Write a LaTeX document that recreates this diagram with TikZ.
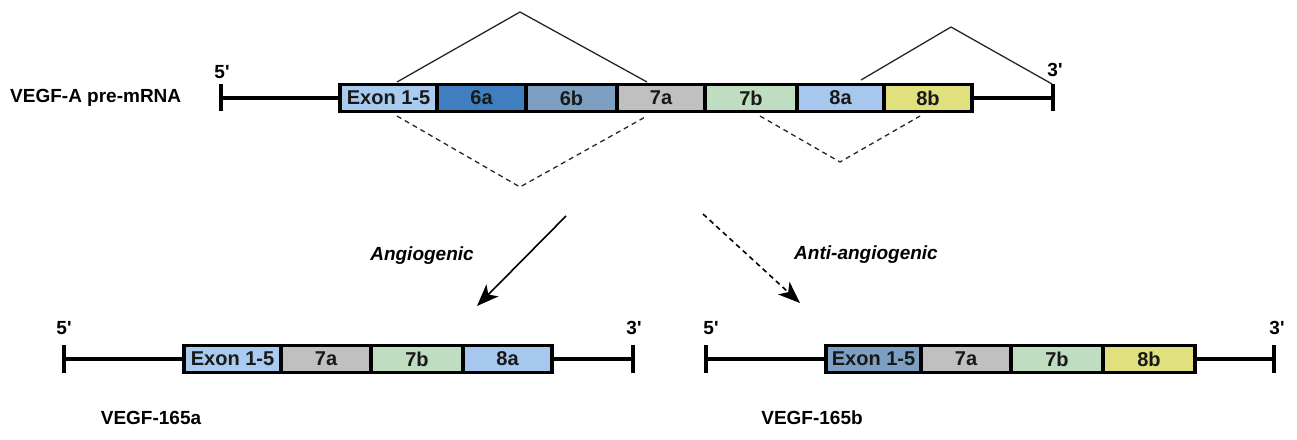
\documentclass[tikz,border=0pt]{standalone}
\usepackage{fontspec}
\setmainfont{Liberation Sans}
\newfontfamily\plainsans{Liberation Sans}
\usetikzlibrary{arrows.meta}
\definecolor{cE}{HTML}{A9CBEF}
\definecolor{cSixA}{HTML}{3F7FC0}
\definecolor{cSixB}{HTML}{7DA0C2}
\definecolor{cSevA}{HTML}{C0C0C0}
\definecolor{cSevB}{HTML}{BFDDC0}
\definecolor{cEightA}{HTML}{A6C8EE}
\definecolor{cEightB}{HTML}{E0E07F}
\tikzset{
  seg/.style={draw=black, line width=3.6pt, inner sep=0pt, minimum height=27pt, font=\fontsize{20}{20}\selectfont\bfseries, text=black!90},
  bb/.style={line width=3.2pt},
  lbl/.style={font=\fontsize{19}{19}\selectfont\bfseries, inner sep=0pt},
  endlbl/.style={font=\plainsans\fontsize{19}{19}\selectfont\bfseries, inner sep=0pt},
  splice/.style={line width=1.3pt, black!85},
  dsplice/.style={line width=1.3pt, black!85, dash pattern=on 5pt off 4pt},
  bigarrow/.style={line width=1.6pt, -{Stealth[length=22pt,width=17pt,inset=6pt]}},
}
\begin{document}
\begin{tikzpicture}[x=1pt,y=-1pt]
\useasboundingbox (0,0) rectangle (1297,439);
% ---------- top pre-mRNA ----------
\node[lbl, anchor=west] (title) at (10,98) {VEGF-A pre-mRNA};
\coordinate (t5) at (221,98);
\coordinate (t3) at (1053,98);
\draw[bb] (221,84) -- (221,111);
\draw[bb] (1053,84) -- (1053,111);
\node[endlbl] (p5) at (222,72) {5'};
\node[endlbl] (p3) at (1055,70) {3'};
\node[seg, fill=cE, minimum width=97pt] (e15) at (388.5,98) {Exon 1-5};
\node[seg, fill=cSixA, minimum width=89pt] (e6a) at (481.5,98) {6a};
\node[seg, fill=cSixB, minimum width=91pt] (e6b) at (571.5,98) {6b};
\node[seg, fill=cSevA, minimum width=88pt] (e7a) at (661,98) {7a};
\node[seg, fill=cSevB, minimum width=92pt] (e7b) at (751,98) {7b};
\node[seg, fill=cEightA, minimum width=87pt] (e8a) at (840.5,98) {8a};
\node[seg, fill=cEightB, minimum width=88pt] (e8b) at (928,98) {8b};
\draw[bb] (t5) -- (e15.west);
\draw[bb] (e8b.east) -- (t3);
% splice lines
\coordinate (s1) at (520,12);
\coordinate (s2) at (951,27);
\coordinate (d1) at (520,187);
\coordinate (d2) at (840,162);
\draw[splice] (397,82) -- (s1) -- (647,82);
\draw[splice] (861,80) -- (s2) -- (1052,84);
\draw[dsplice] (397,116) -- (d1) -- (647,116);
\draw[dsplice] (760,116) -- (d2) -- (920,116);
% ---------- arrows ----------
\coordinate (a1s) at (566,216);
\coordinate (a1e) at (477,306);
\coordinate (a2s) at (703,214);
\coordinate (a2e) at (800,303);
\draw[bigarrow] (a1s) -- (a1e);
\draw[bigarrow, dash pattern=on 5pt off 4pt] (a2s) -- (a2e);
\node[lbl, font=\fontsize{19}{19}\selectfont\bfseries\itshape] (ang) at (422,256) {Angiogenic};
\node[lbl, font=\fontsize{19}{19}\selectfont\bfseries\itshape] (anti) at (866,255) {Anti-angiogenic};
% ---------- bottom left ----------
\coordinate (l5) at (64,359);
\coordinate (l3) at (633,359);
\draw[bb] (64,345) -- (64,373);
\draw[bb] (633,345) -- (633,373);
\node[endlbl] (q5) at (64,328) {5'};
\node[endlbl] (q3) at (634,328) {3'};
\node[seg, fill=cE, minimum width=97pt] (l15) at (232.5,359) {Exon 1-5};
\node[seg, fill=cSevA, minimum width=90pt] (l7a) at (326,359) {7a};
\node[seg, fill=cSevB, minimum width=92pt] (l7b) at (417,359) {7b};
\node[seg, fill=cEightA, minimum width=89pt] (l8a) at (507.5,359) {8a};
\draw[bb] (l5) -- (l15.west);
\draw[bb] (l8a.east) -- (l3);
\node[lbl] (n165a) at (151,418) {VEGF-165a};
% ---------- bottom right ----------
\coordinate (r5) at (706,359);
\coordinate (r3) at (1274,359);
\draw[bb] (706,345) -- (706,373);
\draw[bb] (1274,345) -- (1274,373);
\node[endlbl] (w5) at (711,328) {5'};
\node[endlbl] (w3) at (1277,328) {3'};
\node[seg, fill=cSixB, minimum width=95pt] (r15) at (873.5,359) {Exon 1-5};
\node[seg, fill=cSevA, minimum width=90pt] (r7a) at (966,359) {7a};
\node[seg, fill=cSevB, minimum width=92pt] (r7b) at (1057,359) {7b};
\node[seg, fill=cEightB, minimum width=92pt] (r8b) at (1149,359) {8b};
\draw[bb] (r5) -- (r15.west);
\draw[bb] (r8b.east) -- (r3);
\node[lbl] (n165b) at (812,418) {VEGF-165b};
\end{tikzpicture}
\end{document}
